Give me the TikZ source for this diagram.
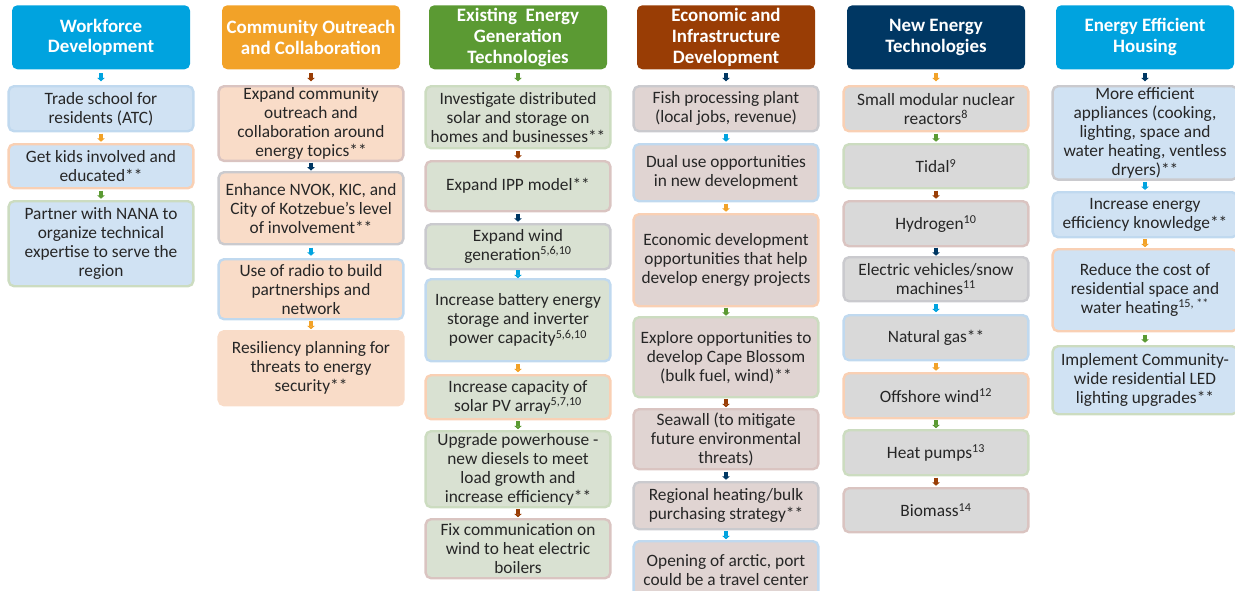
\documentclass[tikz,border=0pt]{standalone}
\usepackage{fontspec}
\setmainfont{Carlito}
\usetikzlibrary{calc,arrows.meta}

% strong colours (headers and arrows)
\definecolor{hblue}{HTML}{00A3DF}
\definecolor{horange}{HTML}{F2A228}
\definecolor{hgreen}{HTML}{5B9A33}
\definecolor{hbrown}{HTML}{993D05}
\definecolor{hnavy}{HTML}{003763}
% light borders
\definecolor{tblue}{HTML}{C0D9EF}
\definecolor{torange}{HTML}{F9D0B4}
\definecolor{tgreen}{HTML}{CCDCC0}
\definecolor{tbrown}{HTML}{DAC4C1}
\definecolor{tnavy}{HTML}{CACACE}
% box fills
\definecolor{fblue}{HTML}{D0E2F3}
\definecolor{fpeach}{HTML}{F9DCC8}
\definecolor{fsage}{HTML}{D9E1D2}
\definecolor{fmauve}{HTML}{E0D4D2}
\definecolor{fgray}{HTML}{D9D9D9}
\definecolor{txt}{HTML}{262626}

\tikzset{
	head/.style={fill=#1, rounded corners=4pt, text=white, anchor=north, align=center,
		font=\bfseries\fontsize{14.2}{15.6}\selectfont, minimum width=133.5pt, minimum height=48pt, inner sep=1pt},
	item/.style 2 args={draw=#1, fill=#2, line width=1.8pt, rounded corners=4pt, text=txt, anchor=north,
		align=center, font=\fontsize{13}{14.25}\selectfont, minimum width=138.5pt, inner sep=1pt},
	ht/.style={minimum height=#1*0.75pt},
	link/.style={draw=#1, line width=3pt, -{Triangle[width=5.5pt,length=2.5pt]}},
}

\begin{document}
\begin{tikzpicture}[x=0.75pt,y=0.75pt,yscale=-1,xscale=1]
	\clip (0,0) rectangle (1235,590);
	
	% Column headers
	\node[head=hblue] (h1) at (101,5) {Workforce\\Development};
	\node[head=horange] (h2) at (311,5) {Community Outreach\\and Collaboration};
	\node[head=hgreen] (h3) at (518,5) {Existing\ \ Energy\\Generation\\Technologies};
	\node[head=hbrown] (h4) at (726,5) {Economic and\\Infrastructure\\Development};
	\node[head=hnavy] (h5) at (936,5) {New Energy\\Technologies};
	\node[head=hblue] (h6) at (1145,5) {Energy Efficient\\Housing};
	
	% Workforce Development
	\node[item={tblue}{fblue}, ht=45] (a1) at (101,85) {Trade school for\\residents (ATC)};
	\node[item={torange}{fblue}, ht=44] (a2) at (101,143) {Get kids involved and\\educated**};
	\node[item={tgreen}{fblue}, ht=85] (a3) at (101,200) {Partner with NANA to\\organize technical\\expertise to serve the\\region};
	
	% Community Outreach and Collaboration
	\node[item={tbrown}{fpeach}, ht=73] (b1) at (311,85) {Expand community\\outreach and\\collaboration around\\energy topics**};
	\node[item={tnavy}{fpeach}, ht=72] (b2) at (311,171) {Enhance NVOK, KIC, and\\City of Kotzebue’s level\\of involvement**};
	\node[item={tblue}{fpeach}, ht=60] (b3) at (311,258) {Use of radio to build\\partnerships and\\network};
	\node[item={fpeach}{fpeach}, ht=74] (b4) at (311,330) {Resiliency planning for\\threats to energy\\security**};
	
	% Existing Energy Generation Technologies
	\node[item={tgreen}{fsage}, ht=62] (c1) at (518,85) {Investigate distributed\\solar and storage on\\homes and businesses**};
	\node[item={tbrown}{fsage}, ht=50] (c2) at (518,160) {Expand IPP model**};
	\node[item={tnavy}{fsage}, ht=45] (c3) at (518,223) {Expand wind\\generation\textsuperscript{5,6,10}};
	\node[item={tblue}{fsage}, ht=82] (c4) at (518,278) {Increase battery energy\\storage and inverter\\power capacity\textsuperscript{5,6,10}};
	\node[item={torange}{fsage}, ht=44] (c5) at (518,374) {Increase capacity of\\solar PV array\textsuperscript{5,7,10}};
	\node[item={tgreen}{fsage}, ht=76] (c6) at (518,430) {Upgrade powerhouse -\\new diesels to meet\\load growth and\\increase efficiency**};
	\node[item={tbrown}{fsage}, ht=59] (c7) at (518,518) {Fix communication on\\wind to heat electric\\boilers};
	
	% Economic and Infrastructure Development
	\node[item={tnavy}{fmauve}, ht=45] (d1) at (726,85) {Fish processing plant\\(local jobs, revenue)};
	\node[item={tblue}{fmauve}, ht=57] (d2) at (726,143) {Dual use opportunities\\in new development};
	\node[item={torange}{fmauve}, ht=92] (d3) at (726,213) {Economic development\\opportunities that help\\develop energy projects};
	\node[item={tgreen}{fmauve}, ht=80] (d4) at (726,316) {Explore opportunities to\\develop Cape Blossom\\(bulk fuel, wind)**};
	\node[item={tbrown}{fmauve}, ht=60] (d5) at (726,408) {Seawall (to mitigate\\future environmental\\threats)};
	\node[item={tnavy}{fmauve}, ht=47] (d6) at (726,481) {Regional heating/bulk\\purchasing strategy**};
	\node[item={tblue}{fmauve}, ht=58] (d7) at (726,540) {Opening of arctic, port\\could be a travel center};
	
	% New Energy Technologies
	\node[item={torange}{fgray}, ht=45] (e1) at (936,85) {Small modular nuclear\\reactors\textsuperscript{8}};
	\node[item={tgreen}{fgray}, ht=44] (e2) at (936,143) {Tidal\textsuperscript{9}};
	\node[item={tbrown}{fgray}, ht=45] (e3) at (936,200) {Hydrogen\textsuperscript{10}};
	\node[item={tnavy}{fgray}, ht=44] (e4) at (936,256) {Electric vehicles/snow\\machines\textsuperscript{11}};
	\node[item={tblue}{fgray}, ht=45] (e5) at (936,314) {Natural gas**};
	\node[item={torange}{fgray}, ht=45] (e6) at (936,372) {Offshore wind\textsuperscript{12}};
	\node[item={tgreen}{fgray}, ht=45] (e7) at (936,429) {Heat pumps\textsuperscript{13}};
	\node[item={tbrown}{fgray}, ht=44] (e8) at (936,487) {Biomass\textsuperscript{14}};
	
	% Energy Efficient Housing
	\node[item={tnavy}{fblue}, ht=93] (f1) at (1145,85) {More efficient\\appliances (cooking,\\lighting, space and\\water heating, ventless\\dryers)**};
	\node[item={tblue}{fblue}, ht=45] (f2) at (1145,191) {Increase energy\\efficiency knowledge**};
	\node[item={torange}{fblue}, ht=82] (f3) at (1145,248) {Reduce the cost of\\residential space and\\water heating\textsuperscript{15, **}};
	\node[item={tgreen}{fblue}, ht=68] (f4) at (1145,345) {Implement Community-\\wide residential LED\\lighting upgrades**};
	
	% Small arrows between the boxes
	\foreach \u/\v/\c in {h1/a1/hblue, a1/a2/horange, a2/a3/hgreen,
		h2/b1/hbrown, b1/b2/hnavy, b2/b3/hblue, b3/b4/horange,
		h3/c1/hgreen, c1/c2/hbrown, c2/c3/hnavy, c3/c4/hblue, c4/c5/horange, c5/c6/hgreen, c6/c7/hbrown,
		h4/d1/hnavy, d1/d2/hblue, d2/d3/horange, d3/d4/hgreen, d4/d5/hbrown, d5/d6/hnavy, d6/d7/hblue,
		h5/e1/horange, e1/e2/hgreen, e2/e3/hbrown, e3/e4/hnavy, e4/e5/hblue, e5/e6/horange, e6/e7/hgreen, e7/e8/hbrown,
		h6/f1/hnavy, f1/f2/hblue, f2/f3/horange, f3/f4/hgreen}
	\draw[link=\c] ($(\u.south)!.5!(\v.north)+(0,-4)$) -- ($(\u.south)!.5!(\v.north)+(0,4)$);
	
\end{tikzpicture}
\end{document}
